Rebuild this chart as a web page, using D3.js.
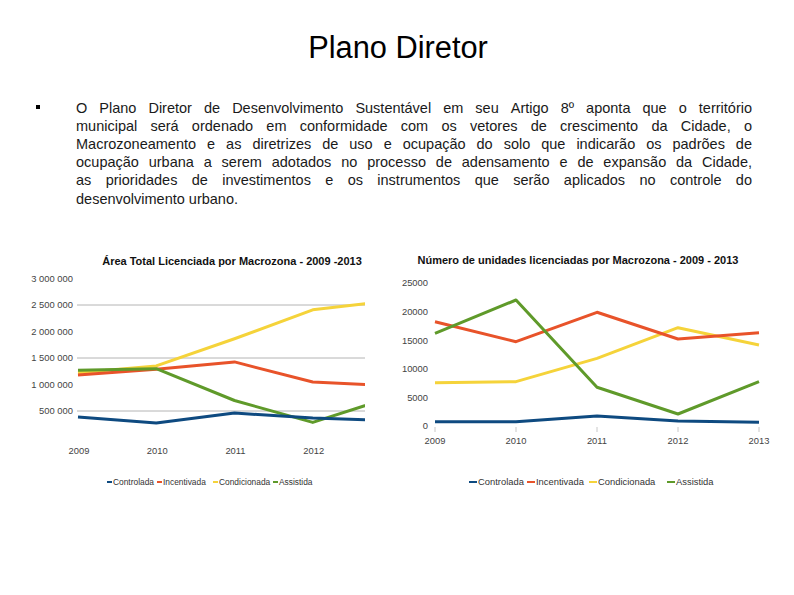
<!DOCTYPE html>
<html>
<head>
<meta charset="utf-8">
<script src="https://cdn.jsdelivr.net/npm/d3@7"></script>
<style>
  html, body { margin: 0; padding: 0; background: #fff; }
  svg { display: block; }
  text { font-family: "Liberation Sans", Arial, sans-serif; }
</style>
</head>
<body>
<svg id="page" width="794" height="595"></svg>
<script>
// ---------- data ----------
const pageTitle = "Plano Diretor";
const paragraphLines = [
  "O Plano Diretor de Desenvolvimento Sustentável em seu Artigo 8º aponta que o território",
  "municipal será ordenado em conformidade com os vetores de crescimento da Cidade, o",
  "Macrozoneamento e as diretrizes de uso e ocupação do solo que indicarão os padrões de",
  "ocupação urbana a serem adotados no processo de adensamento e de expansão da Cidade,",
  "as prioridades de investimentos e os instrumentos que serão aplicados no controle do",
  "desenvolvimento urbano."
];

const years = [2009, 2010, 2011, 2012, 2013];
const seriesNames = ["Controlada", "Incentivada", "Condicionada", "Assistida"];

// Left chart: Área Total Licenciada
const areaTitle = "Área Total Licenciada por Macrozona - 2009 -2013";
const areaControlada   = [385000, 272000, 462000, 367000, 320000];
const areaIncentivada  = [1180000, 1287000, 1426000, 1046000, 980000];
const areaCondicionada = [1222000, 1350000, 1863000, 2409000, 2580000];
const areaAssistida    = [1268000, 1298000, 698000, 285000, 760000];
const areaTicks = [500000, 1000000, 1500000, 2000000, 2500000, 3000000];
const areaGridTicks = [500000, 1500000, 2500000];
const areaXLabels = [2009, 2010, 2011, 2012];

// Right chart: Número de unidades licenciadas
const unitsTitle = "Número de unidades licenciadas por Macrozona - 2009 - 2013";
const unitsControlada   = [750, 750, 1750, 870, 650];
const unitsIncentivada  = [18230, 14740, 19880, 15210, 16310];
const unitsCondicionada = [7570, 7750, 11830, 17190, 14160];
const unitsAssistida    = [16210, 22030, 6770, 2100, 7750];
const unitsTicks = [0, 5000, 10000, 15000, 20000, 25000];

const colors = ["#0e4a80", "#e8532a", "#f5d33a", "#5f9a2a"];

// ---------- page ----------
const svg = d3.select("#page");

svg.append("text")
  .attr("x", 398).attr("y", 58)
  .attr("text-anchor", "middle")
  .attr("font-size", 30.8)
  .attr("fill", "#000")
  .text(pageTitle);

// bullet
svg.append("rect").attr("x", 36).attr("y", 105).attr("width", 4).attr("height", 4).attr("fill", "#000");

// justified paragraph
const pLeft = 76, pRight = 752, pTop = 113, pLine = 18.1, pSize = 14.5;
paragraphLines.forEach((line, i) => {
  const words = line.split(" ");
  const y = pTop + i * pLine;
  const g = svg.append("g");
  const nodes = words.map(w => g.append("text")
    .attr("y", y).attr("font-size", pSize).attr("fill", "#1a1a1a").text(w));
  const widths = nodes.map(n => n.node().getComputedTextLength());
  const total = d3.sum(widths);
  const last = i === paragraphLines.length - 1;
  const gap = last ? pSize * 0.278 : (pRight - pLeft - total) / (words.length - 1);
  let x = pLeft;
  nodes.forEach((n, k) => { n.attr("x", x); x += widths[k] + gap; });
});

// ---------- chart helper ----------
function legend(g, x0s, y, fontSize, swatchW) {
  seriesNames.forEach((name, i) => {
    g.append("line")
      .attr("x1", x0s[i]).attr("x2", x0s[i] + swatchW)
      .attr("y1", y).attr("y2", y)
      .attr("stroke", colors[i]).attr("stroke-width", 2);
    g.append("text")
      .attr("x", x0s[i] + swatchW + 1).attr("y", y + fontSize * 0.35)
      .attr("font-size", fontSize).attr("fill", "#333")
      .text(name);
  });
}

// ---------- left chart ----------
{
  const g = svg.append("g");
  const x = d3.scaleLinear().domain([2009, 2013]).range([78, 391]);
  const y = d3.scaleLinear().domain([0, 3000000]).range([437.5, 278.5]);
  const plotRight = 365;

  g.append("text").attr("x", 232).attr("y", 264.5)
    .attr("text-anchor", "middle").attr("font-size", 11).attr("font-weight", "bold")
    .attr("fill", "#111").text(areaTitle);

  g.selectAll(".grid").data(areaGridTicks).enter().append("line")
    .attr("x1", 77).attr("x2", plotRight)
    .attr("y1", d => y(d)).attr("y2", d => y(d))
    .attr("stroke", "#b4b4b4").attr("stroke-width", 1);

  const fmt = v => d3.format(",")(v).replace(/,/g, " ");
  g.selectAll(".yl").data(areaTicks).enter().append("text")
    .attr("x", 73).attr("y", d => y(d) + 3.3)
    .attr("text-anchor", "end").attr("font-size", 9.4).attr("fill", "#444")
    .text(fmt);

  g.selectAll(".xl").data(areaXLabels).enter().append("text")
    .attr("x", d => x(d) + 1).attr("y", 454)
    .attr("text-anchor", "middle").attr("font-size", 9.4).attr("fill", "#444")
    .text(d => d);

  svg.append("clipPath").attr("id", "clipL").append("rect")
    .attr("x", 70).attr("y", 250).attr("width", plotRight - 70).attr("height", 200);

  const line = d3.line().x((d, i) => x(years[i])).y(d => y(d));
  const series = [areaControlada, areaIncentivada, areaCondicionada, areaAssistida];
  const order = [2, 1, 3, 0];
  order.forEach(k => {
    g.append("path").datum(series[k])
      .attr("clip-path", "url(#clipL)")
      .attr("d", line).attr("fill", "none")
      .attr("stroke", colors[k]).attr("stroke-width", 3)
      .attr("stroke-linejoin", "round");
  });

  legend(g, [107, 157, 213, 273], 482, 8.4, 5);
}

// ---------- right chart ----------
{
  const g = svg.append("g");
  const x = d3.scaleLinear().domain([2009, 2013]).range([435, 759]);
  const y = d3.scaleLinear().domain([0, 25000]).range([426, 283]);

  g.append("text").attr("x", 578).attr("y", 263.5)
    .attr("text-anchor", "middle").attr("font-size", 11).attr("font-weight", "bold")
    .attr("fill", "#111").text(unitsTitle);

  g.selectAll(".yl").data(unitsTicks).enter().append("text")
    .attr("x", 428).attr("y", d => y(d) + 3.3)
    .attr("text-anchor", "end").attr("font-size", 9.4).attr("fill", "#444")
    .text(d => d);

  g.selectAll(".tk").data(years).enter().append("line")
    .attr("x1", d => x(d)).attr("x2", d => x(d))
    .attr("y1", 427).attr("y2", 432)
    .attr("stroke", "#c8c8c8").attr("stroke-width", 1);

  g.selectAll(".xl").data(years).enter().append("text")
    .attr("x", d => x(d)).attr("y", 443.5)
    .attr("text-anchor", "middle").attr("font-size", 9.4).attr("fill", "#444")
    .text(d => d);

  const line = d3.line().x((d, i) => x(years[i])).y(d => y(d));
  const series = [unitsControlada, unitsIncentivada, unitsCondicionada, unitsAssistida];
  const order = [2, 1, 3, 0];
  order.forEach(k => {
    g.append("path").datum(series[k])
      .attr("d", line).attr("fill", "none")
      .attr("stroke", colors[k]).attr("stroke-width", 3)
      .attr("stroke-linejoin", "round");
  });

  legend(g, [469, 527, 589, 667], 482, 9.4, 8);
}
</script>
</body>
</html>
